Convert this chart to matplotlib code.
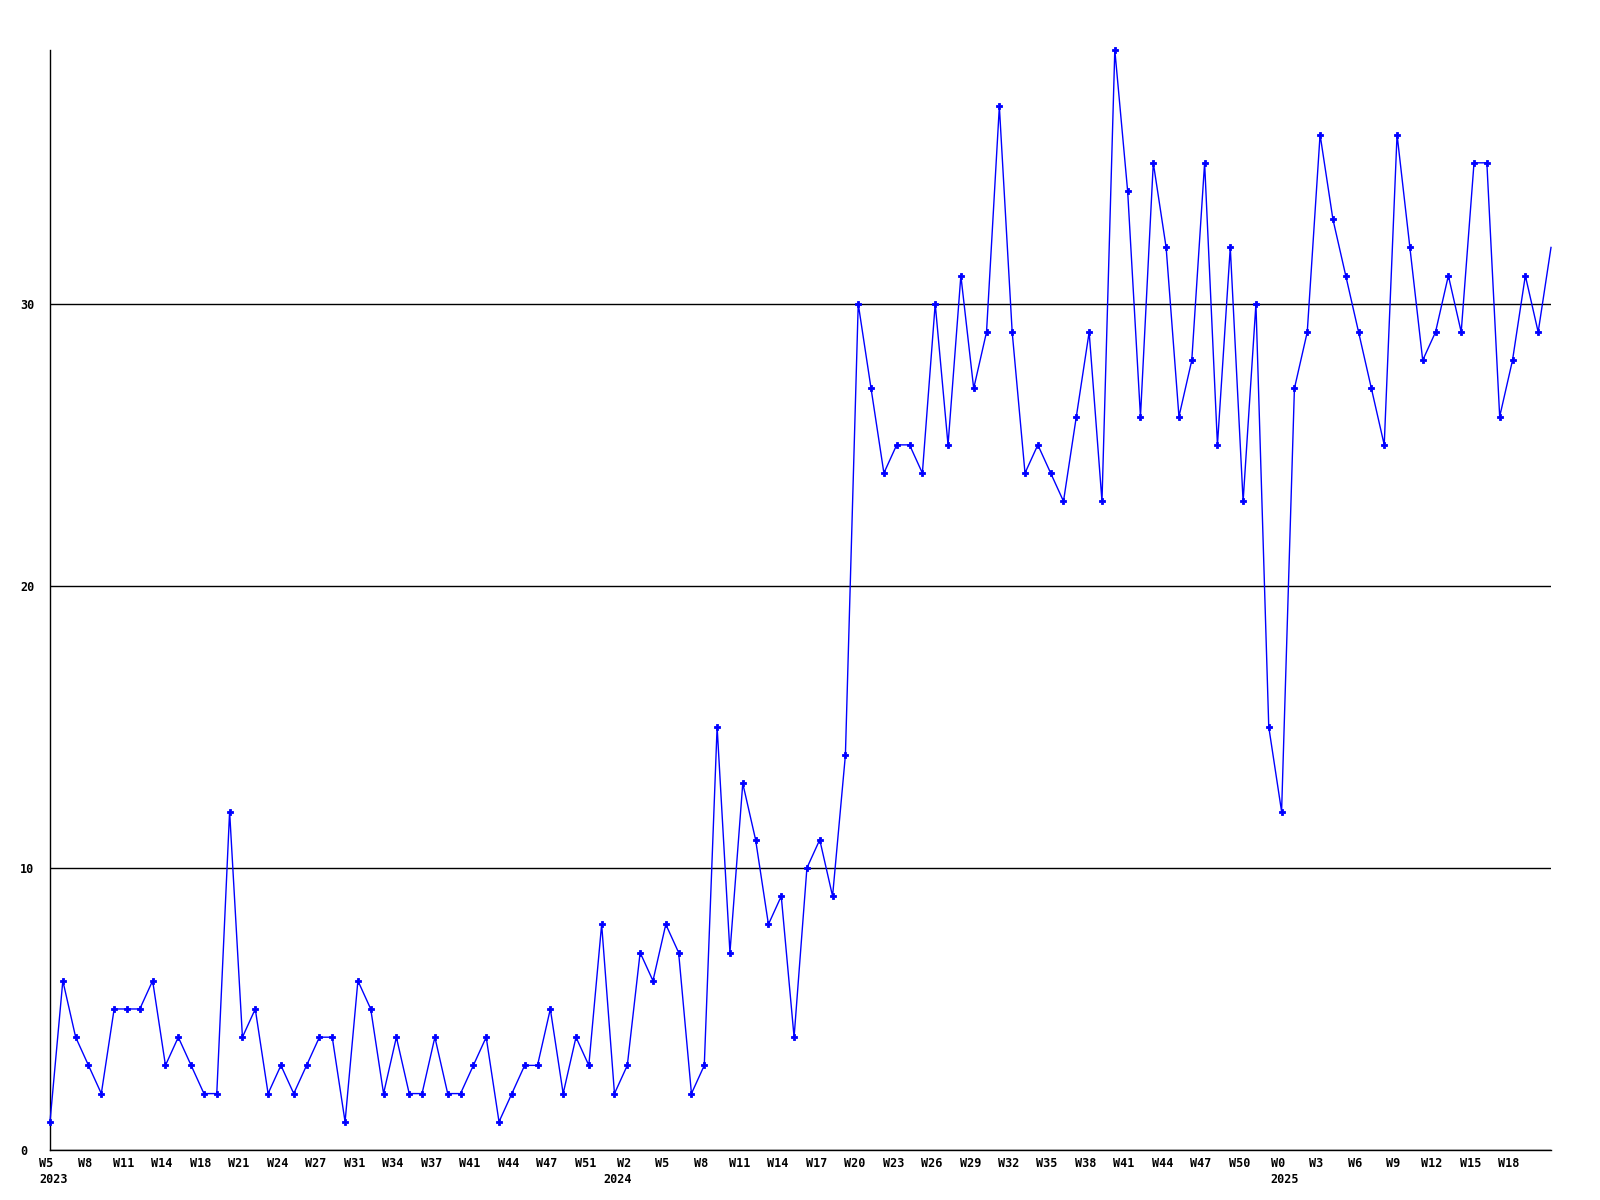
import matplotlib
matplotlib.use("Agg")
import matplotlib.pyplot as plt
from matplotlib import transforms

# weekly counts, 2023 W5 .. 2025 W20
values = [1, 6, 4, 3, 2, 5, 5, 5, 6, 3, 4, 3, 2, 2, 12, 4, 5, 2, 3, 2,
          3, 4, 4, 1, 6, 5, 2, 4, 2, 2, 4, 2, 2, 3, 4, 1, 2, 3, 3, 5,
          2, 4, 3, 8, 2, 3, 7, 6, 8, 7, 2, 3, 15, 7, 13, 11, 8, 9, 4, 10,
          11, 9, 14, 30, 27, 24, 25, 25, 24, 30, 25, 31, 27, 29, 37, 29, 24, 25, 24, 23,
          26, 29, 23, 39, 34, 26, 35, 32, 26, 28, 35, 25, 32, 23, 30, 15, 12, 27, 29, 36,
          33, 31, 29, 27, 25, 36, 32, 28, 29, 31, 29, 35, 35, 26, 28, 31, 29, 32]

week_labels = ["W5", "W8", "W11", "W14", "W18", "W21", "W24", "W27", "W31", "W34",
               "W37", "W41", "W44", "W47", "W51", "W2", "W5", "W8", "W11", "W14",
               "W17", "W20", "W23", "W26", "W29", "W32", "W35", "W38", "W41", "W44",
               "W47", "W50", "W0", "W3", "W6", "W9", "W12", "W15", "W18"]
week_pos = list(range(0, 3 * len(week_labels), 3))

years = ["2023", "2024", "2025"]
year_pos = [0, 44, 96]

fig = plt.figure(figsize=(16, 12), dpi=100)
ax = fig.add_axes([50 / 1600, 50 / 1200, 1501 / 1600, 1100 / 1200])

x = list(range(len(values)))
ax.plot(x, values, color="#0000ff", lw=1.0, marker="P", ms=4.5, mew=0.6,
        markevery=list(range(len(values) - 1)), zorder=3, clip_on=False)

ax.set_xlim(0, len(values) - 1)
ax.set_ylim(0, 39)

for s in ["top", "right"]:
    ax.spines[s].set_visible(False)
for s in ["left", "bottom"]:
    ax.spines[s].set_color("black")
    ax.spines[s].set_linewidth(1.0)

ax.set_yticks([0, 10, 20, 30])
ax.set_yticklabels(["0", "10", "20", "30"])
ax.yaxis.grid(True, color="black", lw=1.0)
ax.set_axisbelow(True)
ax.tick_params(axis="y", length=0, pad=21.6)
for t in ax.get_yticklabels():
    t.set_horizontalalignment("left")
    t.set_fontfamily("DejaVu Sans Mono")
    t.set_fontweight("bold")
    t.set_fontsize(8.5)

ax.set_xticks(week_pos)
ax.set_xticklabels(week_labels)
ax.tick_params(axis="x", length=0, pad=5)
shift = transforms.ScaledTranslation(-3.5 / 100, 0, fig.dpi_scale_trans)
for t in ax.get_xticklabels():
    t.set_fontfamily("DejaVu Sans Mono")
    t.set_fontweight("bold")
    t.set_fontsize(8.5)
    t.set_transform(t.get_transform() + shift)

trans = ax.get_xaxis_transform()
for yr, p in zip(years, year_pos):
    ax.annotate(yr, xy=(p, 0), xycoords=trans, xytext=(3.5, -23),
                textcoords="offset pixels", ha="center", va="top",
                fontfamily="DejaVu Sans Mono", fontweight="bold", fontsize=8.5)

fig.savefig("out.png", dpi=100)
